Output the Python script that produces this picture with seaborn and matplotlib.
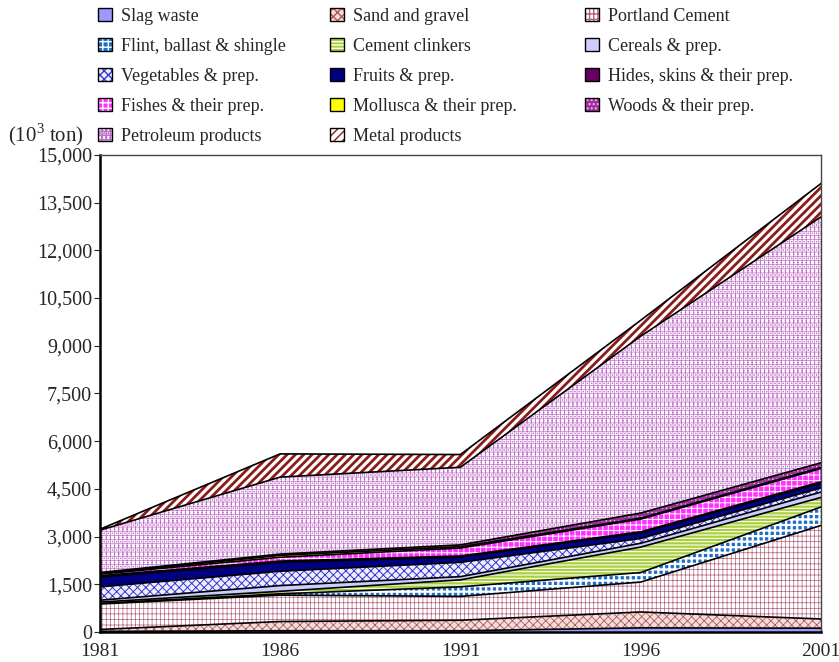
import numpy as np
import matplotlib.pyplot as plt
import seaborn as sns
from matplotlib.patches import Patch
from matplotlib.ticker import FuncFormatter, FixedLocator
from matplotlib.legend_handler import HandlerTuple

# values in 10^3 ton
years = [1981, 1986, 1991, 1996, 2001]
slag_waste = [20, 40, 40, 130, 120]
sand_gravel = [60, 290, 330, 500, 290]
portland_cement = [800, 830, 750, 940, 2940]
flint_ballast = [20, 40, 300, 300, 580]
cement_clinkers = [40, 80, 220, 800, 300]
cereals = [60, 180, 100, 120, 170]
vegetables = [420, 450, 450, 150, 130]
fruits = [310, 280, 170, 180, 150]
hides_skins = [40, 40, 30, 30, 40]
fishes = [50, 120, 250, 400, 420]
mollusca = [20, 60, 40, 30, 30]
woods = [30, 40, 60, 160, 150]
petroleum = [1330, 2420, 2440, 5560, 7730]
metal = [30, 730, 400, 500, 1050]

labels = ['Slag waste', 'Sand and gravel', 'Portland Cement',
          'Flint, ballast & shingle', 'Cement clinkers', 'Cereals & prep.',
          'Vegetables & prep.', 'Fruits & prep.', 'Hides, skins & their prep.',
          'Fishes & their prep.', 'Mollusca & their prep.', 'Woods & their prep.',
          'Petroleum products', 'Metal products']
series = [slag_waste, sand_gravel, portland_cement, flint_ballast, cement_clinkers,
          cereals, vegetables, fruits, hides_skins, fishes, mollusca, woods,
          petroleum, metal]

# (facecolor, hatch, hatch colour, hatch linewidth)
styles = [
    ('#9a9aff', None, None, 0),
    ('#f3dcdc', 'xxxx', '#b25a5a', 0.6),
    ('#ffffff', '||||---', '#b0607a', 0.5),
    ('#1f6fc8', '+++', '#ffffff', 1.6),
    ('#a9d03c', '-----', '#ffffff', 0.8),
    ('#ccccff', None, None, 0),
    ('#eeeeff', 'xxxx', '#3434d0', 0.7),
    ('#000080', None, None, 0),
    ('#660066', None, None, 0),
    ('#ff33ff', '+++', '#ffffff', 0.7),
    ('#ffff00', None, None, 0),
    ('#993399', '....', '#ffaaff', 0.5),
    ('#ffffff', '++++....', '#c070c8', 0.5),
    ('#ffffff', '////', '#8b1a1a', 2.0),
]

sns.set_style('ticks')
plt.rcParams['font.family'] = ['Liberation Serif', 'DejaVu Serif']
plt.rcParams['mathtext.fontset'] = 'custom'
plt.rcParams['mathtext.rm'] = 'Liberation Serif'

fig = plt.figure(figsize=(8.39, 6.62), dpi=100)
ax = fig.add_axes([0.119, 0.0453, 0.8595, 0.7207])

x = np.array(years)
bottom = np.zeros(len(years))
handles = []
for lab, vals, (fc, hatch, hc, hlw) in zip(labels, series, styles):
    top = bottom + np.array(vals)
    with plt.rc_context({'hatch.linewidth': hlw if hlw else 1.0}):
        ax.fill_between(x, bottom, top, facecolor=fc, hatch=hatch,
                        edgecolor=hc if hatch else 'none', linewidth=0, zorder=1)
        fill_patch = Patch(facecolor=fc, hatch=hatch,
                           edgecolor=hc if hatch else 'none', linewidth=0)
    edge_patch = Patch(facecolor='none', edgecolor='black', linewidth=1.0)
    handles.append((fill_patch, edge_patch))
    bottom = top

# boundary lines of each layer
bottom = np.zeros(len(years))
for vals in series:
    bottom = bottom + np.array(vals)
    sns.lineplot(x=years, y=bottom, color='black', linewidth=1.2, ax=ax, zorder=3)

ax.set_xlim(1981, 2001)
ax.set_ylim(0, 15000)
ax.set_xticks(years)
ax.yaxis.set_major_locator(FixedLocator(np.arange(0, 15001, 1500)))
ax.yaxis.set_major_formatter(FuncFormatter(lambda v, p: f'{int(v):,}'))
ax.tick_params(axis='x', direction='in', length=5, labelsize=14, pad=8)
ax.tick_params(axis='y', direction='out', length=4, labelsize=14.5, pad=1.5)
for s in ['left', 'bottom']:
    ax.spines[s].set_linewidth(1.8)
    ax.spines[s].set_color('black')
for s in ['top', 'right']:
    ax.spines[s].set_linewidth(1.0)
    ax.spines[s].set_color('#444444')

fig.text(0.01, 0.797, '(10$^3$ ton)', fontsize=15, va='center', ha='left')

# legend laid out row by row in three columns
col_x = [0.098, 0.374, 0.678]
for c in range(3):
    idx = list(range(c, len(labels), 3))
    fig.legend([handles[i] for i in idx], [labels[i] for i in idx],
               loc='upper left', bbox_to_anchor=(col_x[c], 1.013), ncol=1,
               frameon=False, fontsize=13, handlelength=0.75, handleheight=0.75,
               handletextpad=0.5, labelspacing=0.72,
               handler_map={tuple: HandlerTuple(ndivide=1, pad=0)})

fig.savefig('out.png', dpi=100)
